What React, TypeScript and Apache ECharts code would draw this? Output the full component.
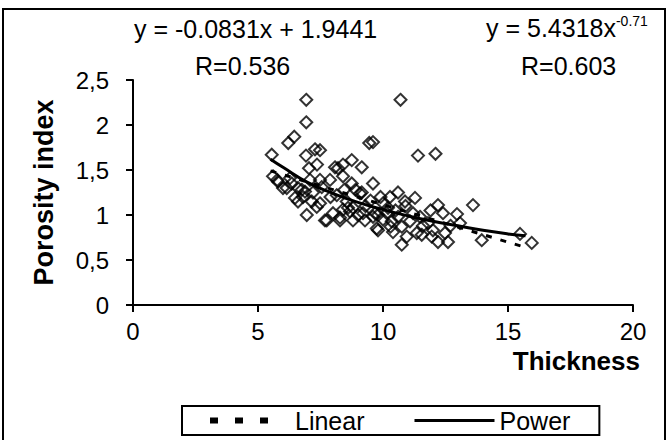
import React, { useEffect, useRef } from "react";
import * as echarts from "echarts";

// Scatter observations: [thickness, porosity index]
const observations: number[][] = [
  [5.55, 1.67], [6.93, 2.28], [6.93, 2.03], [6.45, 1.87], [6.21, 1.8], [7.28, 1.73],
  [6.92, 1.66], [7.36, 1.56], [7.04, 1.52], [9.45, 1.8], [9.6, 1.81], [10.7, 2.28],
  [11.4, 1.66], [12.1, 1.68], [5.77, 1.39], [6.28, 1.41], [6.0, 1.3], [6.75, 1.28],
  [7.08, 1.39], [7.48, 1.39], [8.08, 1.53], [8.4, 1.56], [8.75, 1.61], [9.15, 1.53],
  [9.6, 1.35], [6.48, 1.19], [6.8, 1.2], [7.48, 1.13], [6.95, 1.0], [7.75, 0.94],
  [10.6, 1.25], [10.28, 1.2], [11.28, 1.19], [10.88, 1.15], [10.0, 1.13], [12.2, 1.11],
  [13.6, 1.11], [12.96, 1.01], [12.4, 1.02], [9.68, 1.02], [10.75, 0.67], [13.95, 0.72],
  [15.48, 0.79], [15.95, 0.69], [12.2, 0.7], [12.6, 0.7], [11.2, 1.02], [10.3, 0.87],
  [9.75, 0.85], [9.28, 0.94], [8.8, 0.94], [8.28, 0.94], [8.68, 1.04], [8.0, 1.02],
  [7.35, 1.09], [6.15, 1.3], [9.08, 1.24], [8.15, 1.22], [8.55, 1.15], [10.15, 1.02],
  [11.48, 0.98], [11.8, 0.91], [11.08, 0.93], [11.55, 0.78], [11.95, 0.76], [12.48, 0.8],
  [13.08, 0.91], [9.15, 1.25], [8.6, 1.08], [10.35, 0.93], [10.75, 0.87], [9.8, 0.83],
  [10.4, 0.81], [10.95, 0.76], [11.35, 0.8], [7.88, 1.39], [8.4, 1.43], [7.55, 1.31],
  [7.48, 1.72], [8.2, 1.52], [5.6, 1.43], [6.6, 1.15], [7.15, 1.15], [7.68, 0.94],
  [9.8, 1.0], [8.28, 0.97], [6.88, 1.26], [5.8, 1.37], [8.75, 1.35], [9.3, 1.1],
  [10.5, 1.05], [12.7, 0.88], [11.9, 1.05], [6.35, 1.35], [7.9, 1.2], [9.0, 1.0],
  [10.0, 0.95], [8.4, 1.06], [8.8, 1.08], [9.2, 1.02], [9.6, 0.98], [10.9, 1.1],
  [8.9, 1.28], [9.5, 1.16], [10.2, 1.08], [10.6, 0.98], [11.6, 0.88], [12.0, 0.83],
  [7.2, 1.25], [6.6, 1.3], [8.45, 1.28], [9.9, 1.2],
];

// Trend lines
const linearTrendX = [5.5, 15.7];
const linearTrendY = [1.49, 0.64];
const powerTrendX = [5.5, 6, 7, 8, 9, 10, 11, 12, 13, 14, 15, 15.7];
const powerTrendY = [1.62, 1.53, 1.36, 1.24, 1.14, 1.06, 0.99, 0.93, 0.88, 0.83, 0.79, 0.77];

const yTickLabels = ["0", "0,5", "1", "1,5", "2", "2,5"];
const xTickLabels = ["0", "5", "10", "15", "20"];

const seriesNames = ["Linear", "Power"];
const xAxisTitle = "Thickness";
const yAxisTitle = "Porosity index";
const linearEquation = "y = -0.0831x + 1.9441";
const linearR = "R=0.536";
const powerEquationBase = "y = 5.4318x";
const powerExponent = "-0.71";
const powerR = "R=0.603";

const FONT = "'Liberation Sans', Arial, sans-serif";

const dashIcon =
  "path://M0,0 h8 v6 h-8 Z M25,0 h8 v6 h-8 Z M50,0 h8 v6 h-8 Z M79.9,5.9 h0.1 v0.1 h-0.1 Z";
const solidIcon =
  "path://M0,1.5 h80 v3 h-80 Z M0,0 h0.1 v0.1 h-0.1 Z M79.9,5.9 h0.1 v0.1 h-0.1 Z";

export default function App() {
  const ref = useRef<HTMLDivElement>(null);
  useEffect(() => {
    if (!ref.current) return;
    document.body.style.margin = "0";
    const chart = echarts.init(ref.current, null, { renderer: "svg" });
    const pair = (xs: number[], ys: number[]) => xs.map((x, i) => [x, ys[i]]);
    chart.setOption({
      animation: false,
      backgroundColor: "#fff",
      textStyle: { fontFamily: FONT, color: "#000" },
      grid: { left: 133, right: 35, top: 80, bottom: 135, containLabel: false, outerBoundsMode: "none" },
      xAxis: {
        type: "value",
        min: 0,
        max: 20,
        interval: 5,
        axisLine: { lineStyle: { color: "#000", width: 2 } },
        axisTick: { length: 7, lineStyle: { color: "#000", width: 2 } },
        axisLabel: {
          margin: 14,
          fontSize: 24,
          color: "#000",
          fontFamily: FONT,
          formatter: (v: number) => xTickLabels[Math.round(v / 5)] ?? String(v),
        },
        splitLine: { show: false },
      },
      yAxis: {
        type: "value",
        min: 0,
        max: 2.5,
        interval: 0.5,
        name: yAxisTitle,
        nameLocation: "middle",
        nameGap: 76,
        nameTextStyle: { fontFamily: FONT, fontWeight: "bold", fontSize: 27, color: "#000" },
        axisLine: { show: true, lineStyle: { color: "#000", width: 2 } },
        axisTick: { show: true, length: 7, lineStyle: { color: "#000", width: 2 } },
        axisLabel: {
          margin: 24,
          fontSize: 24,
          color: "#000",
          fontFamily: FONT,
          formatter: (v: number) => yTickLabels[Math.round(v / 0.5)] ?? String(v),
        },
        splitLine: { show: false },
      },
      legend: {
        data: [
          { name: seriesNames[0], icon: dashIcon },
          { name: seriesNames[1], icon: solidIcon },
        ],
        left: 182,
        top: 406,
        padding: [2, 29, 2, 28],
        itemGap: 50,
        itemWidth: 80,
        itemHeight: 6,
        itemStyle: { color: "#000", borderWidth: 0 },
        borderColor: "#000",
        borderWidth: 2,
        borderRadius: 0,
        textStyle: { fontSize: 25, color: "#000", fontFamily: FONT },
      },
      graphic: [
        {
          type: "rect",
          shape: { x: 3, y: 9, width: 662, height: 445 },
          style: { fill: "none", stroke: "#000", lineWidth: 2 },
          silent: true,
        },
        {
          type: "text",
          x: 640,
          y: 348,
          style: {
            text: xAxisTitle,
            fontSize: 26,
            fontWeight: "bold",
            fontFamily: FONT,
            fill: "#000",
            align: "right",
            verticalAlign: "top",
          },
        },
        {
          type: "text",
          left: 134,
          top: 16,
          style: { text: linearEquation, fontSize: 25, fontFamily: FONT, fill: "#000" },
        },
        {
          type: "text",
          left: 195,
          top: 53,
          style: { text: linearR, fontSize: 25, fontFamily: FONT, fill: "#000" },
        },
        {
          type: "text",
          left: 486,
          top: 14,
          style: {
            text: powerEquationBase + "{sup|" + powerExponent + "}",
            fontSize: 25,
            fontFamily: FONT,
            fill: "#000",
            rich: { sup: { fontSize: 14, fontFamily: FONT, verticalAlign: "top", padding: [0, 0, 14, 0] } },
          },
        },
        {
          type: "text",
          left: 521,
          top: 53,
          style: { text: powerR, fontSize: 25, fontFamily: FONT, fill: "#000" },
        },
      ],
      series: [
        {
          name: "Observations",
          type: "scatter",
          data: observations,
          symbol: "diamond",
          symbolSize: 12,
          itemStyle: { color: "rgba(0,0,0,0)", borderColor: "#000", borderWidth: 2 },
          z: 2,
        },
        {
          name: seriesNames[0],
          type: "line",
          data: pair(linearTrendX, linearTrendY),
          symbol: "none",
          lineStyle: { color: "#000", width: 3, type: [6, 9] },
          itemStyle: { color: "#000" },
          z: 3,
        },
        {
          name: seriesNames[1],
          type: "line",
          data: pair(powerTrendX, powerTrendY),
          symbol: "none",
          smooth: true,
          lineStyle: { color: "#000", width: 3 },
          itemStyle: { color: "#000" },
          z: 4,
        },
      ],
    });
    return () => chart.dispose();
  }, []);
  return <div ref={ref} style={{ width: 668, height: 440 }} />;
}
